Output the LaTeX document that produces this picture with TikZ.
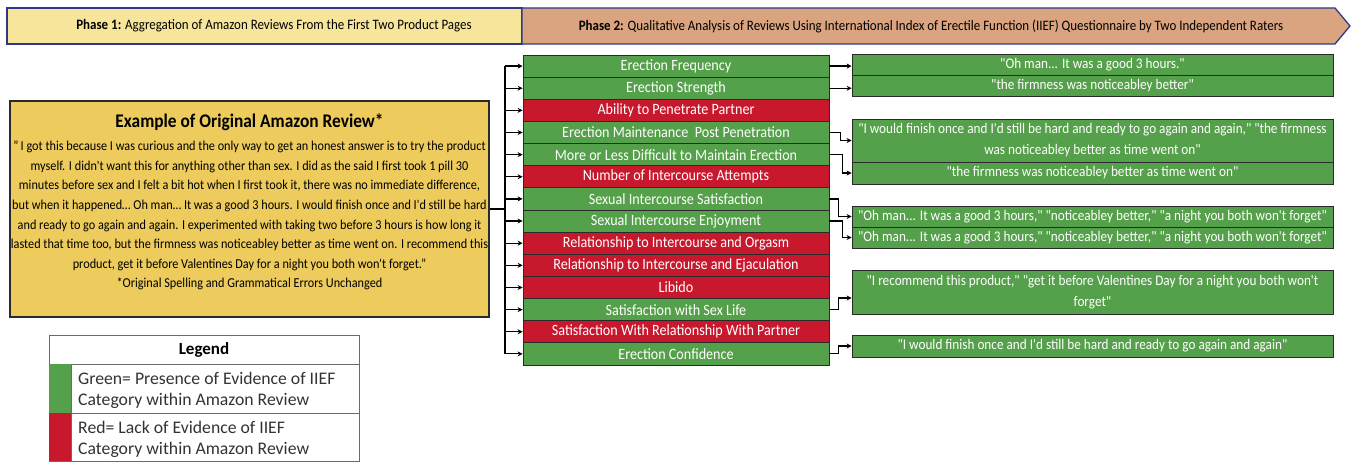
\documentclass[tikz,border=0pt]{standalone}
\usepackage{fontspec}
\setmainfont{Carlito}
\newfontfamily\cond{Carlito}[FakeStretch=0.9]
\usetikzlibrary{arrows.meta}
\definecolor{ph1}{HTML}{F6E59B}
\definecolor{ph2}{HTML}{D9A47F}
\definecolor{phb}{HTML}{2E3A87}
\definecolor{revf}{HTML}{EDCB5C}
\definecolor{gr}{HTML}{55A04A}
\definecolor{rd}{HTML}{C8182D}
\definecolor{edge}{HTML}{2A2A2A}
\definecolor{legtxt}{HTML}{333333}
\begin{document}
\begin{tikzpicture}[x=1pt,y=-1pt,
  cat/.style={draw=edge,line width=0.8pt,minimum width=306pt,minimum height=22.14pt,inner sep=0pt,text=white,font=\cond\fontsize{15.7}{16}\selectfont},
  green/.style={cat,fill=gr},
  red/.style={cat,fill=rd},
  quote/.style={draw=edge,line width=0.8pt,fill=gr,minimum width=481pt,inner sep=0pt,text=white,align=center,font=\cond\fontsize{14.7}{21}\selectfont},
  arr/.style={line width=1.2pt,-{Stealth[length=5pt,width=5pt]}},
  conn/.style={line width=1.2pt}]
\useasboundingbox (0,0) rectangle (1353,462);
\fill[white] (0,0) rectangle (1353,462);
% header
\draw[phb,line width=1.3pt,fill=ph1] (7,8) rectangle (522,44);
\draw[phb,line width=1.3pt,fill=ph2] (522,8) -- (1335,8) -- (1350,26) -- (1335,44) -- (522,44) -- cycle;
\node[font=\cond\fontsize{14.4}{16}\selectfont] (p1) at (274,26) {\textbf{Phase 1:} Aggregation of Amazon Reviews From the First Two Product Pages};
\node[font=\cond\fontsize{14.4}{16}\selectfont] (p2) at (931,26) {\textbf{Phase 2:} Qualitative Analysis of Reviews Using International Index of Erectile Function (IIEF) Questionnaire by Two Independent Raters};
% review box
\node[draw=edge,line width=1.6pt,fill=revf,minimum width=479pt,minimum height=216pt,inner sep=0pt] (review) at (249.5,209) {};
\node[font=\cond\bfseries\fontsize{19.3}{22}\selectfont] (rtitle) at (249.5,122) {Example of Original Amazon Review*};
\node[anchor=north,align=center,inner sep=0pt,font=\cond\fontsize{13.6}{19.57}\selectfont] (rbody) at (249.5,141) {”\,I got this because I was curious and the only way to get an honest answer is to try the product\\
myself. I didn't want this for anything other than sex. I did as the said I first took 1 pill 30\\
minutes before sex and I felt a bit hot when I first took it, there was no immediate difference,\\
but when it happened… Oh man… It was a good 3 hours. I would finish once and I'd still be hard\\
and ready to go again and again. I experimented with taking two before 3 hours is how long it\\
lasted that time too, but the firmness was noticeabley better as time went on. I recommend this\\
product, get it before Valentines Day for a night you both won't forget.”\\
*Original Spelling and Grammatical Errors Unchanged};
% categories
\node[green] (c0) at (676,66.07) {Erection Frequency};
\node[green] (c1) at (676,88.21) {Erection Strength};
\node[red] (c2) at (676,110.35) {Ability to Penetrate Partner};
\node[green] (c3) at (676,132.49) {Erection Maintenance\ \ Post Penetration};
\node[green] (c4) at (676,154.63) {More or Less Difficult to Maintain Erection};
\node[red] (c5) at (676,176.77) {Number of Intercourse Attempts};
\node[green] (c6) at (676,198.91) {Sexual Intercourse Satisfaction};
\node[green] (c7) at (676,221.05) {Sexual Intercourse Enjoyment};
\node[red] (c8) at (676,243.19) {Relationship to Intercourse and Orgasm};
\node[red] (c9) at (676,265.33) {Relationship to Intercourse and Ejaculation};
\node[red] (c10) at (676,287.47) {Libido};
\node[green] (c11) at (676,309.61) {Satisfaction with Sex Life};
\node[red] (c12) at (676,331.75) {Satisfaction With Relationship With Partner};
\node[green] (c13) at (676,353.89) {Erection Confidence};
% quotes
\node[quote,minimum height=21pt] (q1) at (1092.5,64.5) {"Oh man... It was a good 3 hours."};
\node[quote,minimum height=21pt] (q2) at (1092.5,85.5) {"the firmness was noticeabley better"};
\node[quote,minimum height=43pt] (q3) at (1092.5,140.5) {"I would finish once and I'd still be hard and ready to go again and again," "the firmness\\was noticeabley better as time went on"};
\node[quote,minimum height=22pt] (q4) at (1092.5,173) {"the firmness was noticeabley better as time went on"};
\node[quote,minimum height=21pt] (q5) at (1092.5,216.5) {"Oh man... It was a good 3 hours," "noticeabley better," "a night you both won't forget"};
\node[quote,minimum height=21pt] (q6) at (1092.5,237.5) {"Oh man... It was a good 3 hours," "noticeabley better," "a night you both won't forget"};
\node[quote,minimum height=44pt] (q7) at (1092.5,292) {"I recommend this product," "get it before Valentines Day for a night you both won't\\forget"};
\node[quote,minimum height=22pt] (q8) at (1092.5,346) {"I would finish once and I'd still be hard and ready to go again and again"};
% left bus
\coordinate (bus) at (505,0);
\draw[conn] (review.east) -- (bus |- review.east);
\draw[conn] (bus |- c0.west) -- (bus |- c13.west);
\foreach \i in {0,...,13} {\draw[arr] (bus |- c\i.west) -- (c\i.west);}
% right connectors
\draw[arr] (c0.east) -- (q1.west |- c0.east);
\draw[arr] (c1.east) -- (q2.west |- c1.east);
\draw[arr] (c3.east) -- ++(11,0) |- (q3.west);
\draw[arr] (c4.east) -- ++(13,0) |- (q4.west);
\draw[arr] (c6.east) -- ++(9,0) |- (q5.west);
\draw[arr] (c7.east) -- ++(13,0) |- (q6.west);
\draw[arr] (c11.east) -- ++(9,0) |- ([yshift=-6pt]q7.west);
\draw[arr] (c13.east) -- ++(9,0) |- (q8.west);
% legend
\node[draw=edge!70,line width=0.8pt,minimum width=310pt,minimum height=29pt,inner sep=0pt,font=\bfseries\fontsize{17}{18}\selectfont] (lh) at (204,349.5) {Legend};
\node[draw=edge!70,line width=0.8pt,minimum width=310pt,minimum height=49pt,inner sep=0pt] (lr1) at (204,388.5) {};
\node[draw=edge!70,line width=0.8pt,minimum width=310pt,minimum height=48pt,inner sep=0pt] (lr2) at (204,437) {};
\fill[gr] ([xshift=0.4pt,yshift=-0.4pt]lr1.north west) rectangle ([xshift=23pt,yshift=0.4pt]lr1.south west);
\fill[rd] ([xshift=0.4pt,yshift=-0.4pt]lr2.north west) rectangle ([xshift=23pt,yshift=0.4pt]lr2.south west);
\draw[edge!70,line width=0.8pt] ([xshift=23pt]lr1.north west) -- ([xshift=23pt]lr2.south west);
\node[anchor=west,align=left,inner sep=0pt,text=legtxt,font=\fontsize{17.7}{21}\selectfont] (lt1) at (78,390.5) {Green= Presence of Evidence of IIEF\\Category within Amazon Review};
\node[anchor=west,align=left,inner sep=0pt,text=legtxt,font=\fontsize{17.7}{21}\selectfont] (lt2) at (78,439.5) {Red= Lack of Evidence of IIEF\\Category within Amazon Review};
\end{tikzpicture}
\end{document}
